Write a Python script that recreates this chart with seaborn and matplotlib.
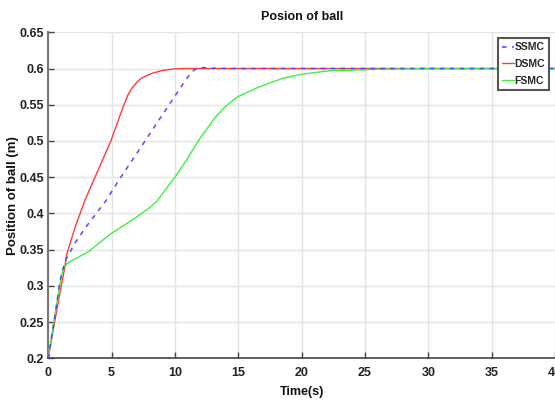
import matplotlib
matplotlib.use("Agg")
import matplotlib.pyplot as plt
import seaborn as sns
import pandas as pd

sns.set_theme(style="white")
plt.rcParams['font.family'] = ['Liberation Sans', 'DejaVu Sans']
plt.rcParams['font.weight'] = 'bold'

# SSMC (blue dashed)
t_ssmc = [0, 0.5, 0.9, 1.3, 2.1, 2.9, 3.7, 4.6, 5.5, 7.6, 9.5, 10.3, 11.0, 11.5, 12.0, 12.7, 14, 40]
y_ssmc = [0.2, 0.255, 0.305, 0.333, 0.359, 0.3795, 0.398, 0.4186, 0.444, 0.499, 0.549, 0.57, 0.588, 0.598, 0.6015, 0.6005, 0.6, 0.6]

# DSMC (red)
t_dsmc = [0, 0.5, 1.0, 1.3, 1.45, 2.1, 2.9, 3.69, 4.94, 5.97, 6.3, 6.6, 7.0, 7.3, 7.63, 8.0, 8.3, 8.95, 9.5, 10, 11, 40]
y_dsmc = [0.2, 0.25, 0.298, 0.325, 0.343, 0.38, 0.4186, 0.45, 0.5, 0.55, 0.564, 0.573, 0.581, 0.586, 0.589, 0.592, 0.594, 0.597, 0.5985, 0.5995, 0.6, 0.6]

# FSMC (green)
t_fsmc = [0, 0.5, 1.0, 1.2, 1.45, 1.67, 2.37, 3.16, 4, 5, 6.84, 8.0, 8.55, 8.95, 10, 11.0, 11.84, 12.37, 13.2,
          13.95, 14.5, 15, 16.7, 18.55, 20, 22.2, 23.8, 26, 30, 40]
y_fsmc = [0.2, 0.258, 0.31, 0.324, 0.33, 0.333, 0.3395, 0.347, 0.359, 0.3726, 0.3933, 0.408, 0.4163, 0.4255, 0.45,
          0.476, 0.5, 0.513, 0.533, 0.547, 0.555, 0.5614, 0.575, 0.5867, 0.592, 0.597, 0.5976, 0.599, 0.6, 0.6]

labels = ['SSMC', 'DSMC', 'FSMC']
x_ticks = [0, 5, 10, 15, 20, 25, 30, 35, 40]
y_ticks = [0.2, 0.25, 0.3, 0.35, 0.4, 0.45, 0.5, 0.55, 0.6, 0.65]
y_tick_labels = ['0.2', '0.25', '0.3', '0.35', '0.4', '0.45', '0.5', '0.55', '0.6', '0.65']

fig = plt.figure(figsize=(5.55, 4.01), dpi=100)
ax = fig.add_axes([0.087, 0.1065, 0.913, 0.813])

sns.lineplot(x=t_ssmc, y=y_ssmc, ax=ax, color='#4a4aff', linestyle=(0, (3, 3.5)), linewidth=1.1,
             label=labels[0], sort=False, zorder=4)
sns.lineplot(x=t_dsmc, y=y_dsmc, ax=ax, color='#ff3c3c', linewidth=1.0, label=labels[1], sort=False, zorder=3)
sns.lineplot(x=t_fsmc, y=y_fsmc, ax=ax, color='#3cf03c', linewidth=1.0, label=labels[2], sort=False, zorder=3)

ax.set_xlim(0, 40)
ax.set_ylim(0.2, 0.65)
ax.set_xticks(x_ticks)
ax.set_yticks(y_ticks)
ax.set_yticklabels(y_tick_labels)
ax.grid(True, color='#e3e3e3', linewidth=1.0)
ax.set_axisbelow(True)

for s in ['top', 'right']:
    ax.spines[s].set_visible(False)
ax.spines['left'].set_color('#777777')
ax.spines['left'].set_linewidth(1.5)
ax.spines['bottom'].set_color('#444444')
ax.spines['bottom'].set_linewidth(1.2)

ax.tick_params(axis='both', direction='in', length=4, width=1, colors='#444444',
               labelcolor='#222222', labelsize=9)
ax.tick_params(axis='x', bottom=True, pad=6)
ax.tick_params(axis='y', left=True, pad=3)
for lab in ax.get_xticklabels() + ax.get_yticklabels():
    lab.set_fontweight('bold')

ax.set_title('Posion of ball', fontsize=9, fontweight='bold', pad=9, color='#111111')
ax.set_xlabel('Time(s)', fontsize=9, fontweight='bold', labelpad=5, color='#111111')
ax.set_ylabel('Position of ball (m)', fontsize=9.5, fontweight='bold', color='#111111')
ax.yaxis.set_label_coords(-0.058, 0.5)

leg = ax.legend(loc='upper right', fontsize=7.5, frameon=True, fancybox=False, framealpha=1,
                handlelength=1.1, handletextpad=0.1, borderpad=0.4, labelspacing=0.65,
                borderaxespad=0.55)
leg.get_frame().set_edgecolor('#555555')
leg.get_frame().set_linewidth(1.5)
for txt in leg.get_texts():
    txt.set_fontweight('bold')

fig.savefig('out.png', dpi=100)
